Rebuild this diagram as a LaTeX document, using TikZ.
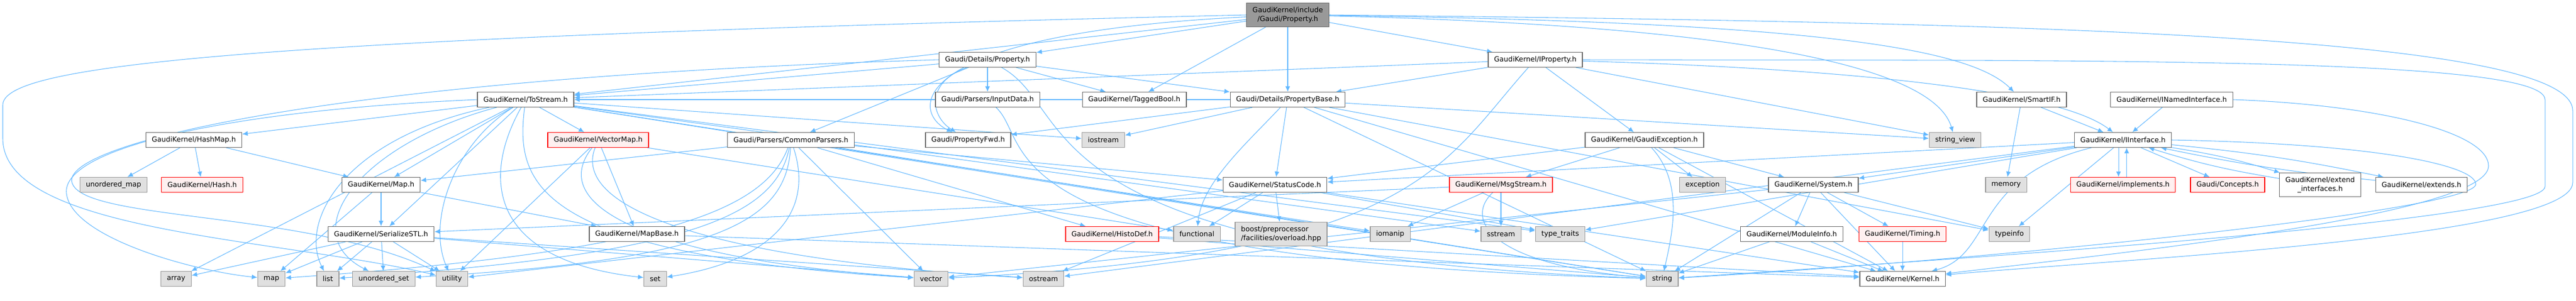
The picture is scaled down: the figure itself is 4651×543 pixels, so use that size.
\documentclass[tikz,border=0pt]{standalone}
\usepackage{fontspec}
\setmainfont{DejaVu Sans}
\usetikzlibrary{positioning, arrows.meta}
\definecolor{edgeblue}{HTML}{63B8FF}
\definecolor{boxline}{HTML}{666666}
\definecolor{sysfill}{HTML}{E0E0E0}
\definecolor{sysline}{HTML}{999999}
\definecolor{redfill}{HTML}{FFF0F0}
\definecolor{rootfill}{HTML}{999999}
\pgfdeclarelayer{background}
\pgfsetlayers{background,main}
\tikzset{
  header/.style={draw=boxline, fill=white, line width=1pt, font=\fontsize{9.5}{12}\selectfont,
    inner xsep=8pt, inner ysep=0pt, minimum height=20pt},
  sysheader/.style={header, draw=sysline, fill=sysfill},
  cutheader/.style={header, draw=red, fill=redfill},
  rootheader/.style={header, fill=rootfill, align=center, minimum height=32pt},
  twoline/.style={minimum height=32pt},
  dep/.style={draw=edgeblue, line width=0.8pt, -{Latex[length=7.5pt,width=6.5pt]}},
}

\begin{document}
\begin{tikzpicture}[x=0.75pt, y=-0.75pt]
        \useasboundingbox (0,0) rectangle (4651,543);
        \node[rootheader] (P) at (2325,27) {GaudiKernel/include\\/Gaudi/Property.h};
        \node[header] (detprop) at (1783,108) {Gaudi/Details/Property.h};
        \node[header] (iprop) at (2772,108) {GaudiKernel/IProperty.h};
        \node[header] (tostream) at (949,180) {GaudiKernel/ToStream.h};
        \node[header] (inputdata) at (1783,180) {Gaudi/Parsers/InputData.h};
        \node[header] (taggedbool) at (2048,180) {GaudiKernel/TaggedBool.h};
        \node[header] (propbase) at (2325,180) {Gaudi/Details/PropertyBase.h};
        \node[header] (smartif) at (3650,180) {GaudiKernel/SmartIF.h};
        \node[header] (namedif) at (3921,180) {GaudiKernel/INamedInterface.h};
        \node[header] (hashmap) at (350,253) {GaudiKernel/HashMap.h};
        \node[cutheader] (vectormap) at (1080,253) {GaudiKernel/VectorMap.h};
        \node[header] (commonparsers) at (1428,253) {Gaudi/Parsers/CommonParsers.h};
        \node[header] (propfwd) at (1748,253) {Gaudi/PropertyFwd.h};
        \node[sysheader] (iostream) at (1992,253) {iostream};
        \node[header] (gaudiexc) at (2969,253) {GaudiKernel/GaudiException.h};
        \node[sysheader] (stringview) at (3530,253) {string\_view};
        \node[header] (iinterface) at (3833,253) {GaudiKernel/IInterface.h};
        \node[sysheader] (umap) at (205,334) {unordered\_map};
        \node[cutheader] (hash) at (365,334) {GaudiKernel/Hash.h};
        \node[header] (mapH) at (688,334) {GaudiKernel/Map.h};
        \node[header] (statuscode) at (2302,334) {GaudiKernel/StatusCode.h};
        \node[cutheader] (msgstream) at (2710,334) {GaudiKernel/MsgStream.h};
        \node[sysheader] (exception) at (3074,334) {exception};
        \node[header] (system) at (3274,334) {GaudiKernel/System.h};
        \node[sysheader] (memory) at (3622,334) {memory};
        \node[cutheader] (implements) at (3833,334) {GaudiKernel/implements.h};
        \node[cutheader] (concepts) at (4022,334) {Gaudi/Concepts.h};
        \node[header, twoline, align=center] (extendif) at (4189,334) {GaudiKernel/extend\\\_interfaces.h};
        \node[header] (extends) at (4372,334) {GaudiKernel/extends.h};
        \node[header] (serialize) at (688,423) {GaudiKernel/SerializeSTL.h};
        \node[header] (mapbase) at (1150,423) {GaudiKernel/MapBase.h};
        \node[cutheader] (histodef) at (2008,423) {GaudiKernel/HistoDef.h};
        \node[sysheader] (functional) at (2161,423) {functional};
        \node[sysheader, twoline, align=left] (boostov) at (2313,423) {boost/preprocessor\\/facilities/overload.hpp};
        \node[sysheader] (iomanip) at (2510,423) {iomanip};
        \node[sysheader] (sstream) at (2710,423) {sstream};
        \node[sysheader] (typetraits) at (2817,423) {type\_traits};
        \node[header] (moduleinfo) at (3235,423) {GaudiKernel/ModuleInfo.h};
        \node[cutheader] (timing) at (3435,423) {GaudiKernel/Timing.h};
        \node[sysheader] (typeinfo) at (3628,423) {typeinfo};
        \node[sysheader] (array) at (318,504) {array};
        \node[sysheader] (map) at (490,504) {map};
        \node[sysheader] (list) at (592,504) {list};
        \node[sysheader] (uset) at (693,504) {unordered\_set};
        \node[sysheader] (utility) at (816,504) {utility};
        \node[sysheader] (set) at (1183,504) {set};
        \node[sysheader] (vector) at (1681,504) {vector};
        \node[sysheader] (ostream) at (1884,504) {ostream};
        \node[sysheader] (string) at (3001,504) {string};
        \node[header] (kernel) at (3435,504) {GaudiKernel/Kernel.h};

        \begin{pgfonlayer}{background}
        \draw[dep] (P) -- (detprop);
        \draw[dep] (P) -- (propbase);
        \draw[dep] (P) -- (taggedbool);
        \draw[dep] (P) -- (iprop);
        \draw[dep] (P) -- (tostream);
        \draw[dep] (P) .. controls (1640,60) and (1640,200) .. (propfwd);
        \draw[dep] (P) .. controls (3300,40) and (3560,90) .. (smartif);
        \draw[dep] (P) .. controls (3300,50) and (3500,150) .. (stringview);
        \draw[dep] (P.east) .. controls (3600,40) and (4645,60) .. (4645,200) -- (4645,330) .. controls (4645,430) and (3800,470) .. (kernel);
        \draw[dep] (P.west) .. controls (400,70) and (5,120) .. (5,190) -- (5,250) .. controls (5,420) and (500,430) .. (utility);

        \draw[dep] (detprop) -- (inputdata);
        \draw[dep] (detprop) .. controls (1670,150) and (1680,210) .. (propfwd);
        \draw[dep] (detprop) -- (commonparsers);
        \draw[dep] (detprop) -- (tostream);
        \draw[dep] (detprop) -- (taggedbool);
        \draw[dep] (detprop) -- (propbase);
        \draw[dep] (detprop) .. controls (1950,200) and (1830,460) .. (string);
        \draw[dep] (detprop.west) .. controls (600,140) and (110,260) .. (130,330) .. controls (150,400) and (550,380) .. (utility);

        \draw[dep] (inputdata) .. controls (1870,260) and (1750,470) .. (string);

        \draw[dep] (propbase) -- (propfwd);
        \draw[dep] (propbase) -- (statuscode);
        \draw[dep] (propbase) .. controls (2250,260) and (2170,330) .. (functional);
        \draw[dep] (propbase) -- (iostream);
        \draw[dep] (propbase) -- (tostream);
        \draw[dep] (propbase) -- (stringview);
        \draw[dep] (propbase) -- (string);
        \draw[dep] (propbase) -- (kernel);
        \draw[dep] (propbase) -- (typeinfo);

        \draw[dep] (iprop) -- (propbase);
        \draw[dep] (iprop) -- (gaudiexc);
        \draw[dep] (iprop) .. controls (3200,120) and (3700,150) .. (iinterface);
        \draw[dep] (iprop) -- (tostream);
        \draw[dep] (iprop) -- (stringview);
        \draw[dep] (iprop) .. controls (2600,300) and (2560,460) .. (vector);
        \draw[dep] (iprop.east) .. controls (3700,110) and (4595,100) .. (4595,180) -- (4595,337) .. controls (4595,400) and (3500,470) .. (string);

        \draw[dep] (tostream) -- (hashmap);
        \draw[dep] (tostream) -- (mapH);
        \draw[dep] (tostream) -- (serialize);
        \draw[dep] (tostream) -- (vectormap);
        \draw[dep] (tostream) -- (array);
        \draw[dep] (tostream.west) .. controls (400,200) and (110,270) .. (120,350) .. controls (130,430) and (350,490) .. (map);
        \draw[dep] (tostream) .. controls (620,250) and (540,400) .. (list);
        \draw[dep] (tostream) .. controls (650,260) and (530,420) .. (uset);
        \draw[dep] (tostream) .. controls (820,260) and (770,400) .. (utility);
        \draw[dep] (tostream) .. controls (870,320) and (880,470) .. (set);
        \draw[dep] (tostream) .. controls (930,330) and (960,460) .. (vector);
        \draw[dep] (tostream) -- (iostream);
        \draw[dep] (tostream) -- (iomanip);
        \draw[dep] (tostream) -- (sstream);
        \draw[dep] (tostream) -- (typetraits);
        \draw[dep] (tostream) -- (string);

        \draw[dep] (hashmap) -- (umap);
        \draw[dep] (hashmap) -- (hash);
        \draw[dep] (hashmap) -- (mapH);

        \draw[dep] (vectormap) -- (mapbase);
        \draw[dep] (vectormap) -- (utility);
        \draw[dep] (vectormap) .. controls (980,380) and (1200,470) .. (vector);
        \draw[dep] (vectormap) .. controls (1030,380) and (1300,470) .. (ostream);
        \draw[dep] (vectormap) -- (functional);

        \draw[dep] (commonparsers) -- (mapH);
        \draw[dep] (commonparsers) -- (statuscode);
        \draw[dep] (commonparsers) -- (histodef);
        \draw[dep] (commonparsers) .. controls (1380,380) and (1200,455) .. (map);
        \draw[dep] (commonparsers) .. controls (1400,390) and (1250,460) .. (list);
        \draw[dep] (commonparsers) .. controls (1420,400) and (1300,470) .. (uset);
        \draw[dep] (commonparsers) .. controls (1470,380) and (1400,470) .. (set);
        \draw[dep] (commonparsers) -- (vector);
        \draw[dep] (commonparsers) -- (string);

        \draw[dep] (mapH) -- (map);
        \draw[dep] (mapH) -- (serialize);
        \draw[dep] (mapH) -- (mapbase);

        \draw[dep] (serialize) -- (array);
        \draw[dep] (serialize) -- (map);
        \draw[dep] (serialize) -- (list);
        \draw[dep] (serialize) -- (uset);
        \draw[dep] (serialize) -- (utility);
        \draw[dep] (serialize) -- (vector);
        \draw[dep] (serialize) -- (ostream);

        \draw[dep] (mapbase) -- (kernel);
        \draw[dep] (histodef) -- (string);
        \draw[dep] (histodef) -- (kernel);

        \draw[dep] (statuscode) -- (boostov);
        \draw[dep] (statuscode) -- (functional);
        \draw[dep] (statuscode) -- (ostream);
        \draw[dep] (statuscode) -- (typetraits);
        \draw[dep] (statuscode) -- (kernel);
        \draw[dep] (statuscode) -- (utility);

        \draw[dep] (msgstream) -- (iomanip);
        \draw[dep] (msgstream) -- (sstream);
        \draw[dep] (msgstream) .. controls (2640,400) and (2700,480) .. (string);
        \draw[dep] (msgstream) -- (serialize);

        \draw[dep] (gaudiexc) -- (statuscode);
        \draw[dep] (gaudiexc) -- (msgstream);
        \draw[dep] (gaudiexc) -- (exception);
        \draw[dep] (gaudiexc) .. controls (3040,330) and (3020,420) .. (string);
        \draw[dep] (gaudiexc) -- (system);
        \draw[dep] (gaudiexc) -- (kernel);

        \draw[dep] (system) -- (moduleinfo);
        \draw[dep] (system) -- (timing);
        \draw[dep] (system) -- (kernel);
        \draw[dep] (system) -- (string);
        \draw[dep] (system) -- (typeinfo);
        \draw[dep] (system) -- (vector);

        \draw[dep] (moduleinfo) -- (kernel);
        \draw[dep] (moduleinfo) -- (string);
        \draw[dep] (timing) -- (kernel);

        \draw[dep] (smartif) -- (memory);
        \draw[dep] (smartif) -- (iinterface);

        \draw[dep] (namedif) -- (iinterface);
        \draw[dep] (namedif.east) .. controls (4300,190) and (4493,240) .. (4493,300) .. controls (4493,390) and (3800,460) .. (kernel);

        \draw[dep] ([xshift=-6pt]iinterface.south) -- ([xshift=-6pt]implements.north);
        \draw[dep] ([xshift=5pt]implements.north) -- ([xshift=5pt]iinterface.south);
        \draw[dep] (iinterface) to[bend left=4] (extendif);
        \draw[dep] (extendif) to[bend left=4] (iinterface);
        \draw[dep] (iinterface) to[bend left=3] (extends);
        \draw[dep] (extends) to[bend left=3] (iinterface);
        \draw[dep] (iinterface) -- (concepts);
        \draw[dep] (iinterface) -- (system);
        \draw[dep] (iinterface) -- (statuscode);
        \draw[dep] (iinterface) -- (typeinfo);
        \draw[dep] (iinterface) -- (ostream);
        \draw[dep] (iinterface) -- (typetraits);
        \draw[dep] (iinterface) .. controls (3560,320) and (3600,460) .. (kernel);
        \draw[dep] (iinterface.east) .. controls (4300,260) and (4470,300) .. (4470,333) .. controls (4470,380) and (3600,470) .. (string);
        \end{pgfonlayer}
    \end{tikzpicture}
\end{document}
